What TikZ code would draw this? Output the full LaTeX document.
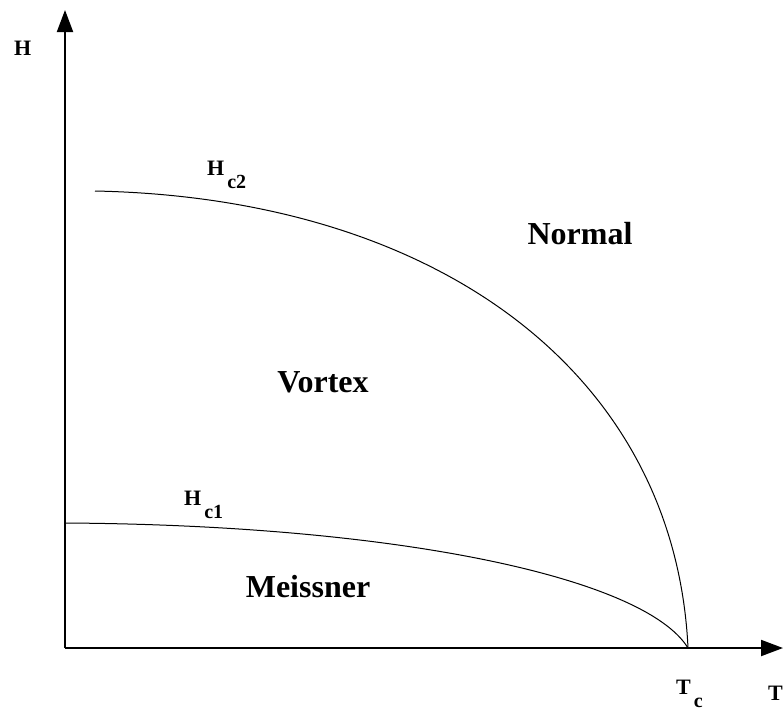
\documentclass[tikz,border=0pt]{standalone}
\usepackage{fontspec}
\setmainfont{Liberation Serif}
\usetikzlibrary{arrows.meta}
\newcommand{\subsc}[1]{\hspace{3pt}\raisebox{-13pt}{\fontsize{20}{22}\selectfont #1}}
\begin{document}
\begin{tikzpicture}[x=1pt,y=-1pt,
  axis/.style={line width=2pt,-{Triangle[length=22pt,width=16pt]}},
  curve/.style={line width=1pt},
  region/.style={font=\bfseries\fontsize{32}{34}\selectfont,inner sep=0pt},
  lab/.style={font=\bfseries\fontsize{22}{24}\selectfont,inner sep=0pt,anchor=base west}]
\useasboundingbox (0,0) rectangle (783,713);
\coordinate (O) at (65,648);
\coordinate (Ytop) at (65,10);
\coordinate (Xend) at (783,648);
\coordinate (Tc) at (688,648);
\coordinate (C2start) at (95,191);
\coordinate (C1start) at (65,523);
\draw[axis] (O) -- (Ytop);
\draw[axis] (O) -- (Xend);
\draw[curve] (C2start) .. controls (440,198) and (675,375) .. (Tc);
\draw[curve] (C1start) .. controls (400,525) and (645,578) .. (Tc);
\node[lab] (Hlab) at (14,55) {H};
\node[lab] (Hc2) at (207,175) {H\subsc{c2}};
\node[lab] (Hc1) at (184,505) {H\subsc{c1}};
\node[lab] (Tclab) at (676,694) {T\subsc{c}};
\node[lab] (Tlab) at (768,700) {T};
\node[region] (Normal) at (580,234) {Normal};
\node[region] (Vortex) at (323,382) {Vortex};
\node[region] (Meissner) at (308,587) {Meissner};
\end{tikzpicture}
\end{document}
